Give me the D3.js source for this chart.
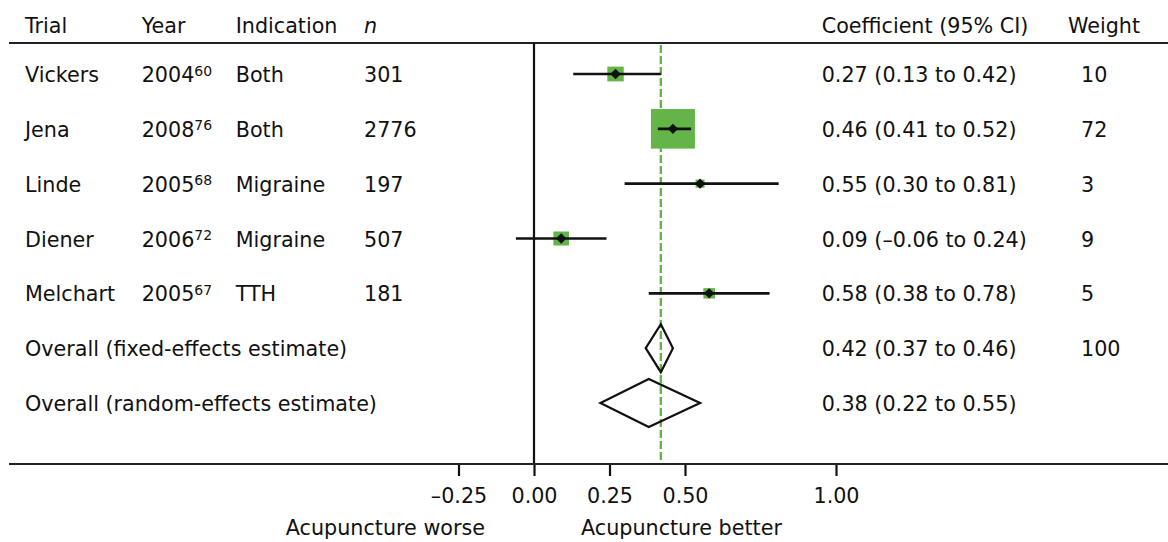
<!DOCTYPE html>
<html><head><meta charset="utf-8">
<script src="https://cdn.jsdelivr.net/npm/d3@7"></script>
<style>
html,body{margin:0;padding:0;background:#fff;}
svg text{font-family:"DejaVu Sans",sans-serif;fill:#111;}
</style></head>
<body><svg id="c" width="1168" height="542"></svg>
<script>
// ---- data ----
const trials = ["Vickers","Jena","Linde","Diener","Melchart"];
const years = ["2004","2008","2005","2006","2005"];
const refs = ["60","76","68","72","67"];
const indications = ["Both","Both","Migraine","Migraine","TTH"];
const ns = ["301","2776","197","507","181"];
const coef = [0.27,0.46,0.55,0.09,0.58];
const lower = [0.13,0.41,0.30,-0.06,0.38];
const upper = [0.42,0.52,0.81,0.24,0.78];
const weights = [10,72,3,9,5];
const summaryLabels = ["Overall (fixed-effects estimate)","Overall (random-effects estimate)"];
const summaryCoef = [0.42,0.38];
const summaryLower = [0.37,0.22];
const summaryUpper = [0.46,0.55];
const summaryWeight = ["100",""];
const tickValues = [-0.25,0,0.25,0.5,1.0];
const tickLabels = ["\u20130.25","0.00","0.25","0.50","1.00"];
const headers = ["Trial","Year","Indication","n","Coefficient (95% CI)","Weight"];

const fmt = v => (v<0?"\u2013":"") + Math.abs(v).toFixed(2);
const ciText = (c,l,u) => `${fmt(c)} (${fmt(l)} to ${fmt(u)})`;

const svg = d3.select("#c");
const W = 1168;
const green = "#63b547";
const fs = 20.7;

const x = d3.scaleLinear().domain([-0.25,1]).range([458.5,836]);
const rowIds = d3.range(trials.length + summaryLabels.length);
const y = d3.scalePoint().domain(rowIds).range([74, 403]);
const sq = d3.scaleSqrt().domain([0,72]).range([0,44]);

const colX = {trial:25, year:141.7, ind:235.7, n:364, coef:821.7, weightH:1068, weight:1081};
const topRule = 43, axisY = 464;
const tb = 8; // text baseline offset

// header
const hx = [colX.trial,colX.year,colX.ind,colX.n,colX.coef,colX.weightH];
svg.selectAll("text.hdr").data(headers).join("text").attr("class","hdr")
  .attr("x",(d,i)=>hx[i]).attr("y",33).attr("font-size",fs)
  .attr("font-style",d=>d==="n"?"italic":"normal").text(d=>d);

// rules
svg.append("line").attr("x1",9).attr("x2",W).attr("y1",topRule).attr("y2",topRule)
  .attr("stroke","#222").attr("stroke-width",2.2);

// reference dashed line at fixed-effects estimate
svg.append("line").attr("x1",x(summaryCoef[0])).attr("x2",x(summaryCoef[0]))
  .attr("y1",topRule+2).attr("y2",axisY-1)
  .attr("stroke",green).attr("stroke-width",2.4).attr("stroke-dasharray","8,3");

// zero line
svg.append("line").attr("x1",x(0)).attr("x2",x(0)).attr("y1",topRule).attr("y2",axisY)
  .attr("stroke","#111").attr("stroke-width",2.2);

// axis
const axis = d3.axisBottom(x).tickValues(tickValues).tickSize(12)
  .tickFormat((d,i)=>tickLabels[i]).tickPadding(10);
const ag = svg.append("g").attr("transform",`translate(0,${axisY})`).call(axis);
ag.select(".domain").remove();
ag.selectAll(".tick line").attr("stroke","#111").attr("stroke-width",2.2);
ag.selectAll(".tick text").attr("font-size",fs).attr("font-family","DejaVu Sans").attr("fill","#111")
  .attr("dy",null).attr("y",39);
svg.append("line").attr("x1",9).attr("x2",W).attr("y1",axisY).attr("y2",axisY)
  .attr("stroke","#222").attr("stroke-width",2.2);

svg.append("text").attr("x",x(0)-49).attr("y",535).attr("text-anchor","end")
  .attr("font-size",fs).text("Acupuncture worse");
svg.append("text").attr("x",x(0)+47).attr("y",535)
  .attr("font-size",fs).text("Acupuncture better");

// trial rows
const g = svg.append("g");
const dm = 5.2;
trials.forEach((t,i)=>{
  const yy = y(i);
  g.append("text").attr("x",colX.trial).attr("y",yy+tb).attr("font-size",fs).text(t);
  const yt = g.append("text").attr("x",colX.year).attr("y",yy+tb).attr("font-size",fs);
  yt.append("tspan").text(years[i]);
  yt.append("tspan").attr("font-size",14).attr("dy",-6.5).text(refs[i]);
  g.append("text").attr("x",colX.ind).attr("y",yy+tb).attr("font-size",fs).text(indications[i]);
  g.append("text").attr("x",colX.n).attr("y",yy+tb).attr("font-size",fs).text(ns[i]);
  g.append("text").attr("x",colX.coef).attr("y",yy+tb).attr("font-size",fs).text(ciText(coef[i],lower[i],upper[i]));
  g.append("text").attr("x",colX.weight).attr("y",yy+tb).attr("font-size",fs).text(weights[i]);
  const w = sq(weights[i]), h = w*0.9;
  g.append("rect").attr("x",x(coef[i])-w/2).attr("y",yy-h/2).attr("width",w).attr("height",h).attr("fill",green);
  g.append("line").attr("x1",x(lower[i])).attr("x2",x(upper[i])).attr("y1",yy).attr("y2",yy)
    .attr("stroke","#111").attr("stroke-width",2.6);
  const cx = x(coef[i]);
  g.append("path").attr("d",`M${cx-dm},${yy}L${cx},${yy-dm}L${cx+dm},${yy}L${cx},${yy+dm}Z`)
    .attr("fill","#111");
});

// summary rows
summaryLabels.forEach((lab,j)=>{
  const yy = y(trials.length + j);
  g.append("text").attr("x",colX.trial).attr("y",yy+tb).attr("font-size",fs).text(lab);
  g.append("text").attr("x",colX.coef).attr("y",yy+tb).attr("font-size",fs)
    .text(ciText(summaryCoef[j],summaryLower[j],summaryUpper[j]));
  g.append("text").attr("x",colX.weight).attr("y",yy+tb).attr("font-size",fs).text(summaryWeight[j]);
  const hh = 24;
  const pts = [[x(summaryLower[j]),yy],[x(summaryCoef[j]),yy-hh],[x(summaryUpper[j]),yy],[x(summaryCoef[j]),yy+hh]];
  g.append("path").attr("d","M"+pts.map(p=>p.join(",")).join("L")+"Z")
    .attr("fill","none").attr("stroke","#111").attr("stroke-width",2.2);
});
</script></body></html>
